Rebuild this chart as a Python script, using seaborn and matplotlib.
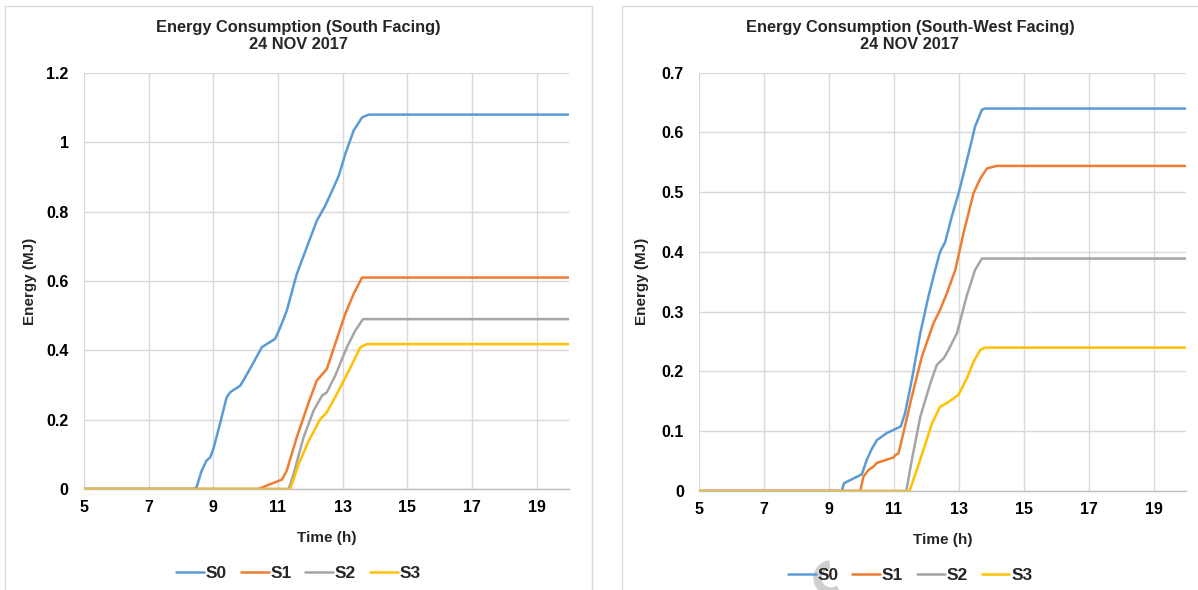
import matplotlib
matplotlib.use("Agg")
import matplotlib.pyplot as plt
from matplotlib.patches import Rectangle, Arc
import seaborn as sns
import pandas as pd

# ---- South facing, 24 Nov 2017 ----
south_s0_t = [5, 8.38, 8.48, 8.64, 8.79, 8.9, 9.0, 9.21, 9.41, 9.52, 9.83, 9.93, 10.19, 10.5,
              10.65, 10.91, 11.07, 11.27, 11.58, 11.89, 12.2, 12.46, 12.72, 12.88, 13.08, 13.34,
              13.6, 13.81, 20]
south_s0_e = [0, 0, 0.005, 0.053, 0.082, 0.091, 0.115, 0.19, 0.264, 0.279, 0.298, 0.313, 0.356,
              0.409, 0.418, 0.433, 0.466, 0.514, 0.62, 0.697, 0.774, 0.817, 0.87, 0.904, 0.966,
              1.034, 1.072, 1.08, 1.08]
south_s1_t = [5, 10.4, 10.76, 11.12, 11.27, 11.58, 11.95, 12.2, 12.51, 12.82, 13.08, 13.34, 13.6, 20]
south_s1_e = [0, 0, 0.014, 0.027, 0.053, 0.149, 0.25, 0.313, 0.346, 0.433, 0.505, 0.563, 0.61, 0.61]
south_s2_t = [5, 11.33, 11.48, 11.79, 12.1, 12.36, 12.51, 12.77, 13.13, 13.39, 13.63, 20]
south_s2_e = [0, 0, 0.043, 0.149, 0.226, 0.269, 0.279, 0.327, 0.409, 0.457, 0.49, 0.49]
south_s3_t = [5, 11.38, 11.64, 11.95, 12.31, 12.51, 12.82, 13.19, 13.55, 13.75, 20]
south_s3_e = [0, 0, 0.072, 0.139, 0.202, 0.221, 0.274, 0.341, 0.409, 0.418, 0.418]

# ---- South-west facing, 24 Nov 2017 ----
sw_s0_t = [5, 9.39, 9.46, 10.01, 10.16, 10.32, 10.42, 10.47, 10.78, 11.21, 11.34, 11.55, 11.81,
           12.06, 12.27, 12.42, 12.58, 12.78, 12.99, 13.25, 13.5, 13.71, 13.8, 20]
sw_s0_e = [0, 0, 0.013, 0.028, 0.052, 0.071, 0.08, 0.085, 0.097, 0.108, 0.13, 0.186, 0.264,
           0.325, 0.37, 0.4, 0.417, 0.459, 0.498, 0.554, 0.61, 0.638, 0.64, 0.64]
sw_s1_t = [5, 9.96, 10.06, 10.21, 10.37, 10.47, 10.98, 11.04, 11.14, 11.29, 11.55, 11.86, 12.22,
           12.42, 12.63, 12.89, 13.14, 13.45, 13.66, 13.87, 14.17, 20]
sw_s1_e = [0, 0, 0.024, 0.035, 0.041, 0.047, 0.056, 0.06, 0.063, 0.097, 0.158, 0.225, 0.281,
           0.303, 0.331, 0.37, 0.431, 0.498, 0.523, 0.54, 0.544, 0.544]
sw_s2_t = [5, 11.38, 11.55, 11.81, 12.12, 12.32, 12.53, 12.68, 12.94, 13.25, 13.5, 13.71, 20]
sw_s2_e = [0, 0, 0.052, 0.124, 0.18, 0.211, 0.222, 0.236, 0.264, 0.328, 0.37, 0.389, 0.389]
sw_s3_t = [5, 11.48, 11.7, 11.91, 12.17, 12.42, 12.68, 12.99, 13.25, 13.45, 13.66, 13.81, 20]
sw_s3_e = [0, 0, 0.035, 0.069, 0.113, 0.141, 0.149, 0.161, 0.189, 0.216, 0.236, 0.24, 0.24]

series_names = ["S0", "S1", "S2", "S3"]
series_colors = ["#5B9BD5", "#ED7D31", "#A5A5A5", "#FFC000"]

titles = ["Energy Consumption (South Facing)\n24 NOV 2017",
          "Energy Consumption (South-West Facing)\n24 NOV 2017"]
x_ticks = [5, 7, 9, 11, 13, 15, 17, 19]
south_y_ticks = [0, 0.2, 0.4, 0.6, 0.8, 1.0, 1.2]
sw_y_ticks = [0, 0.1, 0.2, 0.3, 0.4, 0.5, 0.6, 0.7]
x_label = "Time (h)"
y_label = "Energy (MJ)"


def long_frame(pairs):
    rows = []
    for name, (t, e) in zip(series_names, pairs):
        for ti, ei in zip(t, e):
            rows.append({"Time": ti, "Energy": ei, "Series": name})
    return pd.DataFrame(rows)


south_df = long_frame([(south_s0_t, south_s0_e), (south_s1_t, south_s1_e),
                       (south_s2_t, south_s2_e), (south_s3_t, south_s3_e)])
sw_df = long_frame([(sw_s0_t, sw_s0_e), (sw_s1_t, sw_s1_e),
                    (sw_s2_t, sw_s2_e), (sw_s3_t, sw_s3_e)])

sns.set_theme(style="white")
plt.rcParams["font.family"] = ["Liberation Sans", "DejaVu Sans"]
plt.rcParams["font.weight"] = "bold"

W, H = 1198, 590
fig = plt.figure(figsize=(W / 100, H / 100), dpi=100)
fig.patch.set_facecolor("white")

# panel frames
border = "#d9d9d9"
fig.add_artist(Rectangle((5 / W, -0.02), (592 - 5) / W, 1 - 5.7 / H + 0.02,
                         transform=fig.transFigure, fill=False, edgecolor=border, lw=1))
fig.add_artist(Rectangle((622 / W, -0.02), (1230 - 622) / W, 1 - 5.7 / H + 0.02,
                         transform=fig.transFigure, fill=False, edgecolor=border, lw=1))

ax_specs = [
    dict(rect=[84 / W, 1 - 489 / H, 485 / W, 416 / H], df=south_df, yticks=south_y_ticks,
         ylim=1.2, panel=(5, 592), ylab_x=(37 - 84) / 485, xlab_y=(489 - 531) / 416,
         leg_y=573, title_y=36),
    dict(rect=[699.3 / W, 1 - 491 / H, 486.7 / W, 418.3 / H], df=sw_df, yticks=sw_y_ticks,
         ylim=0.7, panel=(622, 1198), ylab_x=(649 - 699.3) / 486.7, xlab_y=(491 - 533) / 418.3,
         leg_y=575, title_y=36),
]

for spec, title in zip(ax_specs, titles):
    ax = fig.add_axes(spec["rect"])
    sns.lineplot(data=spec["df"], x="Time", y="Energy", hue="Series",
                 palette=series_colors, hue_order=series_names, linewidth=1.8,
                 ax=ax, estimator=None, sort=False)
    ax.set_xlim(5, 20)
    ax.set_ylim(0, spec["ylim"])
    ax.set_xticks(x_ticks)
    ax.set_yticks(spec["yticks"])
    ax.set_yticklabels(["%g" % v for v in spec["yticks"]])
    ax.grid(True, color="#d9d9d9", lw=1)
    ax.set_axisbelow(True)
    for side in ["top", "right", "left"]:
        ax.spines[side].set_visible(False)
    ax.spines["bottom"].set_color("#bfbfbf")
    ax.spines["bottom"].set_linewidth(1)
    ax.tick_params(axis="both", length=0, labelsize=11.5, colors="#000000")
    ax.tick_params(axis="x", pad=8)
    ax.tick_params(axis="y", pad=11)
    for lbl in ax.get_xticklabels() + ax.get_yticklabels():
        lbl.set_fontweight("bold")
    ax.set_xlabel(x_label, fontsize=11, fontweight="bold")
    ax.set_ylabel(y_label, fontsize=11, fontweight="bold")
    ax.yaxis.set_label_coords(spec["ylab_x"], 0.5)
    ax.xaxis.set_label_coords(0.5, spec["xlab_y"])
    ax.get_legend().remove()

    px0, px1 = spec["panel"]
    cx = (px0 + px1) / 2 / W
    fig.text(cx, 1 - spec["title_y"] / H, title, ha="center", va="center",
             fontsize=11.8, fontweight="bold", linespacing=1.1)

    handles, labels = ax.get_legend_handles_labels()
    fig.legend(handles, labels, loc="center", bbox_to_anchor=(cx, 1 - spec["leg_y"] / H),
               ncol=4, frameon=False, prop={"size": 12.5, "weight": "bold"},
               handlelength=1.6, handletextpad=0.1, columnspacing=0.8)

# grey ring fragment by the right legend
fig.add_artist(Arc((8.31, (H - 578) / 100), 0.27, 0.27, theta1=95, theta2=305,
                   transform=fig.dpi_scale_trans, color="#cfcfcf", lw=6))

fig.savefig("out.png", dpi=100, facecolor="white")
